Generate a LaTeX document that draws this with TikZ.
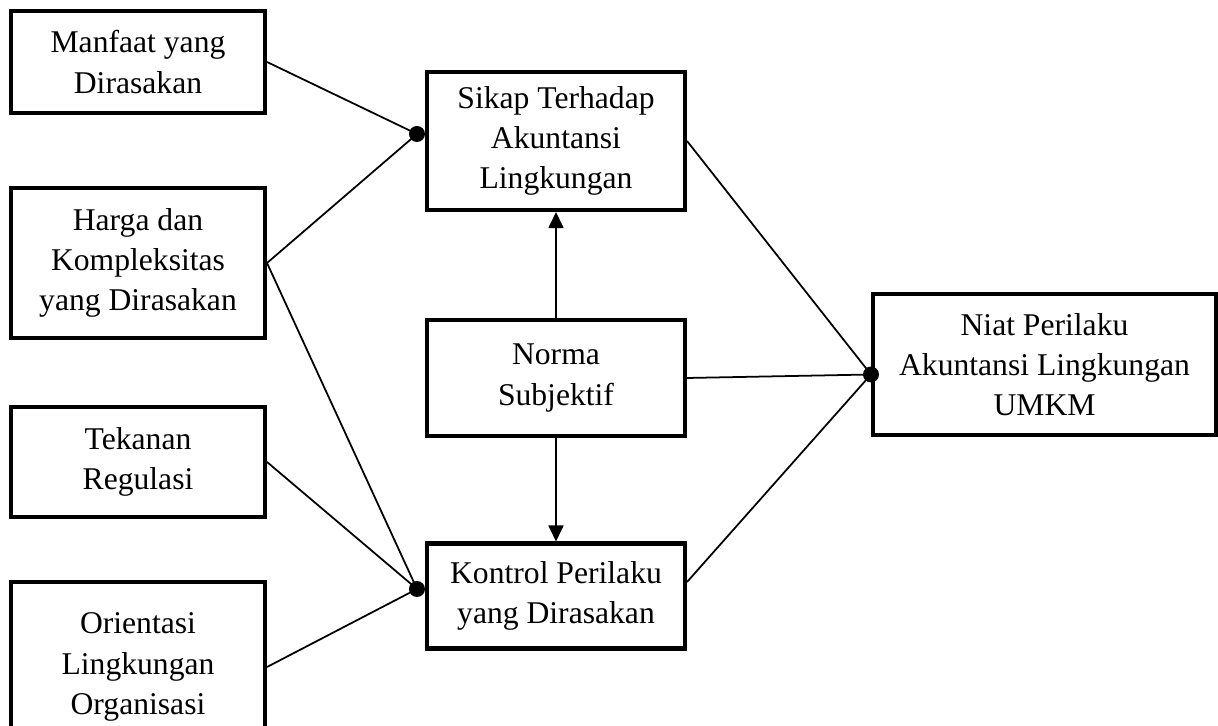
\documentclass[tikz,border=0pt]{standalone}
\usepackage{fontspec}
\setmainfont{Liberation Serif}
\usetikzlibrary{positioning,arrows.meta}

\begin{document}
\begin{tikzpicture}[
    every node/.style={rectangle, draw, line width=2.3pt, align=center, inner sep=0pt, font=\fontsize{18}{22.8}\selectfont},
    leftbox/.style={minimum width=5.08cm},
    midbox/.style={minimum width=5.16cm},
    arrow/.style={-{Triangle[length=0.32cm,width=0.3cm]}, line width=1pt},
    link/.style={line width=1pt}
]
\useasboundingbox (0,0) rectangle (24.36,14.52);

% Nodes
\node (manfaat)   [leftbox, minimum height=2.04cm] at (2.76,13.28) {Manfaat yang\\Dirasakan};
\node (harga)     [leftbox, minimum height=3.0cm]  at (2.76,9.26)  {Harga dan\\Kompleksitas\\yang Dirasakan};
\node (tekanan)   [leftbox, minimum height=2.2cm]  at (2.76,5.28)  {Tekanan\\Regulasi};
\node (orientasi) [leftbox, minimum height=3.4cm]  at (2.76,1.18)  {Orientasi\\Lingkungan\\Organisasi};

\node (sikap)   [midbox, minimum height=2.76cm] at (11.12,11.7) {Sikap Terhadap\\Akuntansi\\Lingkungan};
\node (norma)   [midbox, minimum height=2.32cm] at (11.12,6.96) {Norma\\Subjektif};
\node (kontrol) [midbox, minimum height=2.1cm]  at (11.12,2.6)  {Kontrol Perilaku\\yang Dirasakan};

\node (niat) [minimum width=6.86cm, minimum height=2.82cm] at (20.89,7.23) {Niat Perilaku\\Akuntansi Lingkungan\\UMKM};

% Dots
\coordinate (sdot) at ([shift={(-0.16,0.14)}]sikap.west);
\coordinate (kdot) at ([shift={(-0.16,0.14)}]kontrol.west);
\coordinate (ndot) at ([yshift=-0.2cm]niat.west);

% Lines
\draw[link] (manfaat.east) -- (sdot);
\draw[link] (harga.east) -- (sdot);
\draw[link] (harga.east) -- (kdot);
\draw[link] (tekanan.east) -- (kdot);
\draw[link] (orientasi.east) -- (kdot);
\draw[link] (sikap.east) -- (ndot);
\draw[link] (norma.east) -- (ndot);
\draw[link] ([yshift=0.28cm]kontrol.east) -- (ndot);
\draw[arrow] (norma.north) -- (sikap.south);
\draw[arrow] (norma.south) -- (kontrol.north);

\fill (sdot) circle (0.16);
\fill (kdot) circle (0.16);
\fill (ndot) circle (0.16);

\end{tikzpicture}
\end{document}
